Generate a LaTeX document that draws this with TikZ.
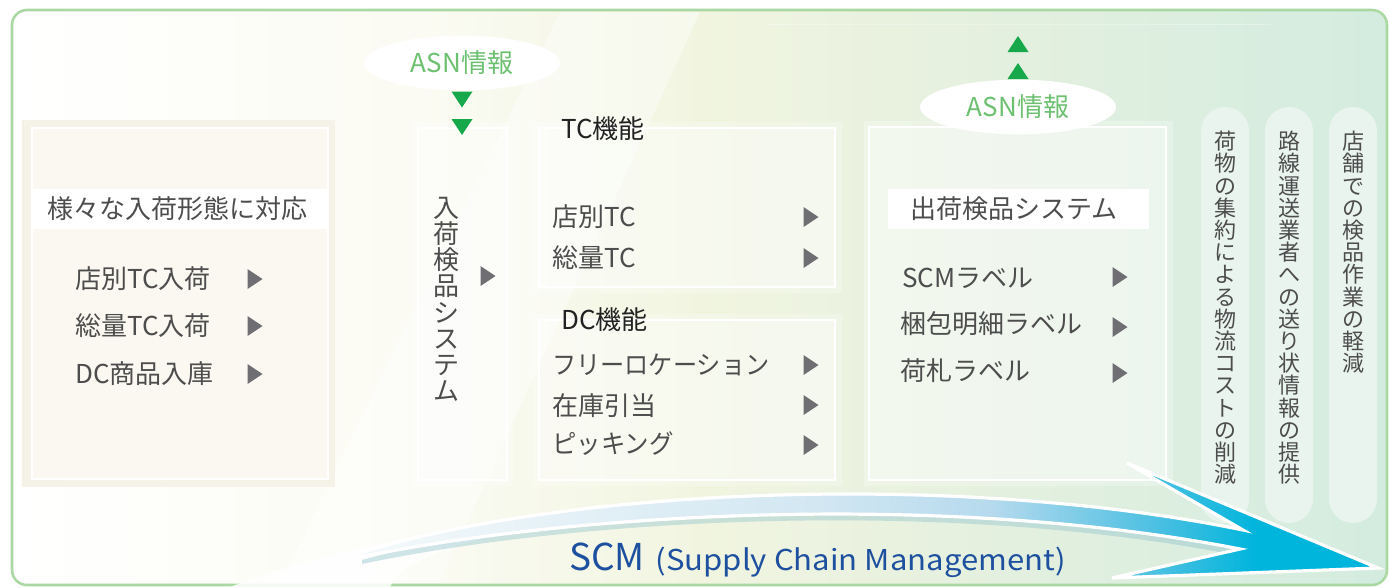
\documentclass[tikz,border=0pt]{standalone}
\usepackage{fontspec}
\setmainfont{Noto Sans CJK JP}
\usetikzlibrary{shapes.geometric}
\definecolor{framec}{HTML}{A9D8A2}
\definecolor{txt}{HTML}{4D4D4D}
\definecolor{ttlc}{HTML}{222222}
\definecolor{asnc}{HTML}{6CC070}
\definecolor{grn}{HTML}{16A84A}
\definecolor{tric}{HTML}{6E6E73}
\definecolor{scmc}{HTML}{1E50A0}
\definecolor{pillc}{HTML}{E9F4EE}
\definecolor{creamA}{HTML}{F5F3E7}
\definecolor{creamB}{HTML}{FAF8F0}
\definecolor{shadc}{HTML}{96C6CE}
\definecolor{bgB}{HTML}{FBFBF3}
\definecolor{bgC}{HTML}{F1F5E0}
\definecolor{bgD}{HTML}{E4F0DF}
\definecolor{bgE}{HTML}{D3ECDF}
\definecolor{arA}{HTML}{F4F9FB}
\definecolor{arB}{HTML}{D2E7F2}
\definecolor{arC}{HTML}{B6DAEE}
\definecolor{arD}{HTML}{4DC0E2}
\definecolor{arE}{HTML}{00B5DC}
\pgfdeclarehorizontalshading{bgshade}{100bp}{color(0bp)=(white); color(25bp)=(white); color(40bp)=(bgB); color(50bp)=(bgC); color(61bp)=(bgD); color(75bp)=(bgE); color(100bp)=(bgE)}
\pgfdeclarehorizontalshading{arrowshade}{100bp}{color(0bp)=(arA); color(25bp)=(arA); color(47.5bp)=(arB); color(56bp)=(arC); color(64bp)=(arD); color(69bp)=(arE); color(100bp)=(arE)}
\begin{document}
\begin{tikzpicture}[x=0.75pt,y=-0.75pt,
  item/.style={anchor=west, inner sep=0pt, text=txt, font=\fontsize{19.5}{22}\selectfont},
  ttl/.style={anchor=west, inner sep=0pt, text=ttlc, font=\fontsize{19.5}{22}\selectfont},
  vtxt/.style={anchor=north, inner sep=0pt, align=center, text=txt},
  box/.style={draw=white, line width=2.2pt, fill=white, fill opacity=0.3},
  halo/.style={fill=white, opacity=0.25},
  asn/.style={ellipse, fill=white, minimum width=147pt, minimum height=41pt, inner sep=0pt, text=asnc, font=\fontsize{19.5}{22}\selectfont},
  pillbg/.style={fill=pillc, rounded corners=18pt},
  rtri/.pic={\fill[tric] (-7.5,-10) -- (7.5,0) -- (-7.5,10) -- cycle;},
  dtri/.pic={\fill[grn] (-10.5,-8) -- (10.5,-8) -- (0,8) -- cycle;},
  utri/.pic={\fill[grn] (-10.5,8) -- (10.5,8) -- (0,-8) -- cycle;}
]
\useasboundingbox (0,0) rectangle (1389,587);
\fill[white] (0,0) rectangle (1389,587);
% frame background
\path[shading=bgshade, rounded corners=11.25pt] (12,10) rectangle (1387,585);
\fill[white, opacity=0.4] (560,12) -- (700,12) -- (440,583) -- (280,583) -- cycle;
\draw[white, opacity=0.3, line width=0.5pt] (766,24) -- (1271,24);
\draw[framec, line width=1.9pt, rounded corners=11.25pt] (12,10) rectangle (1387,585);

% left box
\fill[creamA] (22,120) rectangle (335,487);
\draw[draw=white, line width=2.2pt, fill=creamB] (32,128) rectangle (328,479);
\fill[white] (33,189) rectangle (327,229);
\node[item] (hdrL) at (47,209) {様々な入荷形態に対応};
\node[item] (l1) at (75,279) {店別TC入荷};
\node[item] (l2) at (75,326) {総量TC入荷};
\node[item] (l3) at (75,374) {DC商品入庫};
\pic at (255,279) {rtri};
\pic at (255,326) {rtri};
\pic at (255,374) {rtri};

% inbound inspection
\fill[halo] (412,122) rectangle (513,486);
\path[box] (418,128) rectangle (507,480);
\node[vtxt, font=\fontsize{19.5}{19.6}\selectfont] (nyuka) at (446,197) {入\\荷\\検\\品\\シ\\ス\\テ\\ム};
\pic at (488,276) {rtri};

% TC box
\fill[halo] (533,122) rectangle (842,293);
\path[box] (539,128) rectangle (835,287);
\node[ttl] (tc) at (561,129) {TC機能};
\node[item] (tc1) at (552,217) {店別TC};
\node[item] (tc2) at (552,258) {総量TC};
\pic at (811,217) {rtri};
\pic at (811,258) {rtri};

% DC box
\fill[halo] (533,314) rectangle (842,486);
\path[box] (539,320) rectangle (835,480);
\node[ttl] (dc) at (561,320) {DC機能};
\node[item] (dc1) at (552,365) {\scalebox{0.93}[1]{フリーロケーション}};
\node[item] (dc2) at (552,406) {在庫引当};
\node[item] (dc3) at (552,444) {\scalebox{0.94}[1]{ピッキング}};
\pic at (811,365) {rtri};
\pic at (811,405) {rtri};
\pic at (811,445) {rtri};

% outbound inspection
\fill[halo] (864,121) rectangle (1173,486);
\path[box] (869,127) rectangle (1166,480);
\fill[white] (888,189) rectangle (1149,229);
\node[item] (hdrR) at (910,209) {出荷検品システム};
\node[item] (r1) at (902,278) {SCMラベル};
\node[item] (r2) at (900,324) {梱包明細ラベル};
\node[item] (r3) at (900,371) {荷札ラベル};
\pic at (1120,277) {rtri};
\pic at (1120,327) {rtri};
\pic at (1120,373) {rtri};

% ASN ellipses
\node[asn] (asnL) at (462,63) {ASN情報};
\pic at (462,99.5) {dtri};
\pic at (462,127) {dtri};
\node[asn] (asnR) at (1018,107) {ASN情報};
\pic at (1018,44) {utri};
\pic at (1018,71) {utri};

% pills
\path[pillbg] (1201,107) rectangle (1249,523);
\path[pillbg] (1265,107) rectangle (1313,523);
\path[pillbg] (1329,107) rectangle (1377,523);
\node[vtxt, font=\fontsize{16.5}{16.65}\selectfont] (p1) at (1225,131) {荷\\物\\の\\集\\約\\に\\よ\\る\\物\\流\\コ\\ス\\ト\\の\\削\\減};
\node[vtxt, font=\fontsize{16.5}{16.65}\selectfont] (p2) at (1289,131) {路\\線\\運\\送\\業\\者\\へ\\の\\送\\り\\状\\情\\報\\の\\提\\供};
\node[vtxt, font=\fontsize{16.5}{16.65}\selectfont] (p3) at (1353,131) {店\\舗\\で\\の\\検\\品\\作\\業\\の\\軽\\減};

% SCM arrow
\fill[white, opacity=0.85] (230,587) .. controls (300,560) and (420,530) .. (600,505) -- (600,514) .. controls (450,540) and (400,562) .. (390,587) -- cycle;
\fill[shadc, opacity=0.45] (362,560) .. controls (580,500) and (950,478) .. (1243,536) -- (1240,556) .. controls (950,498) and (580,518) .. (362,564) -- cycle;
\path[shading=arrowshade] (360,553) .. controls (560,490) and (950,470) .. (1243,530) -- (1127,463) -- (1378,568) -- (1112,578) -- (1240,549) .. controls (950,492) and (580,512) .. (360,557) -- cycle;
\draw[white, line width=2.4pt, line join=miter] (360,553) .. controls (560,490) and (950,470) .. (1243,530) -- (1127,463) -- (1378,568) -- (1112,578) -- (1240,549) .. controls (950,492) and (580,512) .. (360,557) -- cycle;
\node[anchor=base west, inner sep=0pt, text=scmc] (scm) at (569,570) {\fontsize{27.75}{30}\selectfont SCM\hspace{8pt}\fontsize{21.5}{24}\selectfont\scalebox{1.085}[1]{(Supply Chain Management)}};
\end{tikzpicture}
\end{document}
